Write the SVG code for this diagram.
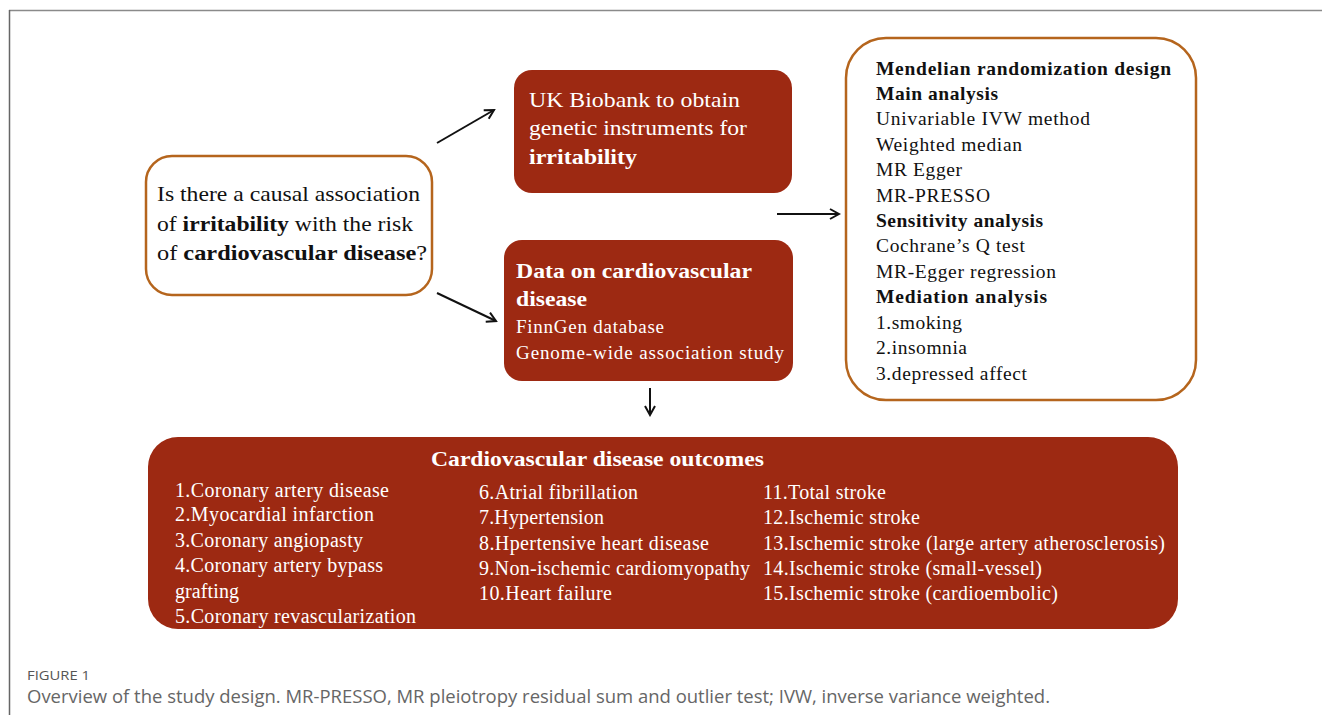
<svg xmlns="http://www.w3.org/2000/svg" width="1322" height="715" viewBox="0 0 1322 715">
<defs>
<style>
.t{font-family:"Liberation Serif","Times New Roman",serif;}
.w{fill:#ffffff;}
.k{fill:#111111;}
.b{font-weight:bold;}
.red{fill:#9d2912;}
.wb{fill:#ffffff;stroke:#b5651d;stroke-width:2.5;}
.conn{stroke:#111;stroke-width:2;fill:none;}
.cap{font-family:"Open Sans","Liberation Sans",sans-serif;}
</style>
<marker id="ah" markerWidth="12" markerHeight="12" refX="10" refY="6" orient="auto" markerUnits="userSpaceOnUse">
<path d="M1,1 L10,6 L1,11" fill="none" stroke="#111" stroke-width="2"/>
</marker>
</defs>
<rect width="1322" height="715" fill="#ffffff"/>
<line x1="9" y1="10.5" x2="1322" y2="10.5" stroke="#8a8a8a" stroke-width="1.5"/>
<line x1="9.5" y1="10" x2="9.5" y2="715" stroke="#666" stroke-width="1.5"/>

<g id="question">
<rect class="wb" x="146" y="156" width="286" height="139" rx="26"/>
<text class="t k" font-size="22" x="157" y="201" textLength="263" lengthAdjust="spacingAndGlyphs">Is there a causal association</text>
<text class="t k" font-size="22" x="157" y="231" textLength="256" lengthAdjust="spacingAndGlyphs">of <tspan class="b">irritability</tspan> with the risk</text>
<text class="t k" font-size="22" x="157" y="260" textLength="270" lengthAdjust="spacingAndGlyphs">of  <tspan class="b">cardiovascular disease</tspan>?</text>
</g>

<g id="ukbiobank">
<rect class="red" x="514" y="70" width="278" height="123" rx="18"/>
<text class="t w" font-size="22" x="529" y="107" textLength="211" lengthAdjust="spacingAndGlyphs">UK Biobank to obtain</text>
<text class="t w" font-size="22" x="529" y="135" textLength="218" lengthAdjust="spacingAndGlyphs">genetic instruments for</text>
<text class="t w b" font-size="22" x="529" y="164" textLength="108" lengthAdjust="spacingAndGlyphs">irritability</text>
</g>

<g id="data">
<rect class="red" x="504" y="240" width="289" height="141" rx="18"/>
<text class="t w b" font-size="22" x="516" y="278" textLength="236" lengthAdjust="spacingAndGlyphs">Data on cardiovascular</text>
<text class="t w b" font-size="22" x="516" y="306" textLength="71" lengthAdjust="spacingAndGlyphs">disease</text>
<text class="t w" font-size="19" x="516" y="333" textLength="148" lengthAdjust="spacing">FinnGen database</text>
<text class="t w" font-size="19" x="516" y="359" textLength="268" lengthAdjust="spacing">Genome-wide association study</text>
</g>

<g id="mrdesign">
<rect class="wb" x="846" y="38" width="350" height="362" rx="40"/>
<g class="t k" font-size="19.5" lengthAdjust="spacing">
<text class="b" x="876" y="75" textLength="295">Mendelian randomization design</text>
<text class="b" x="876" y="100" textLength="122">Main analysis</text>
<text x="876" y="125" textLength="214">Univariable IVW method</text>
<text x="876" y="151" textLength="146">Weighted median</text>
<text x="876" y="176" textLength="86">MR Egger</text>
<text x="876" y="202" textLength="114">MR-PRESSO</text>
<text class="b" x="876" y="227" textLength="167">Sensitivity analysis</text>
<text x="876" y="252" textLength="149">Cochrane’s Q test</text>
<text x="876" y="278" textLength="180">MR-Egger regression</text>
<text class="b" x="876" y="303" textLength="171">Mediation  analysis</text>
<text x="876" y="329" textLength="86">1.smoking</text>
<text x="876" y="354" textLength="91">2.insomnia</text>
<text x="876" y="380" textLength="151">3.depressed affect</text>
</g>
</g>

<g id="outcomes">
<rect class="red" x="148" y="437" width="1030" height="192" rx="30"/>
<text class="t w b" font-size="22" x="431" y="466" textLength="333" lengthAdjust="spacingAndGlyphs">Cardiovascular disease outcomes</text>
<g class="t w" font-size="20">
<text x="175" y="497" textLength="214">1.Coronary artery disease</text>
<text x="175" y="521" textLength="199">2.Myocardial  infarction</text>
<text x="175" y="547" textLength="188">3.Coronary angiopasty</text>
<text x="175" y="572" textLength="208">4.Coronary artery bypass</text>
<text x="175" y="598" textLength="64">grafting</text>
<text x="175" y="623" textLength="241">5.Coronary revascularization</text>
<text x="479" y="499" textLength="159">6.Atrial fibrillation</text>
<text x="479" y="524" textLength="125">7.Hypertension</text>
<text x="479" y="550" textLength="230">8.Hpertensive heart disease</text>
<text x="479" y="575" textLength="271">9.Non-ischemic cardiomyopathy</text>
<text x="479" y="600" textLength="133">10.Heart failure</text>
<text x="763" y="499" textLength="123">11.Total stroke</text>
<text x="763" y="524" textLength="157">12.Ischemic stroke</text>
<text x="763" y="550" textLength="402">13.Ischemic stroke (large artery atherosclerosis)</text>
<text x="763" y="575" textLength="279">14.Ischemic stroke (small-vessel)</text>
<text x="763" y="600" textLength="295">15.Ischemic stroke (cardioembolic)</text>
</g>
</g>

<g id="connectors">
<line class="conn" x1="437" y1="143" x2="494" y2="110" marker-end="url(#ah)"/>
<line class="conn" x1="437" y1="293" x2="496" y2="321" marker-end="url(#ah)"/>
<line class="conn" x1="777" y1="214" x2="839" y2="214" marker-end="url(#ah)"/>
<line class="conn" x1="650" y1="388" x2="650" y2="415" marker-end="url(#ah)"/>
</g>

<g id="caption">
<text class="cap" font-size="13" fill="#555" x="27" y="680" textLength="63" lengthAdjust="spacingAndGlyphs">FIGURE 1</text>
<text class="cap" font-size="18" fill="#666" x="27" y="703" textLength="1023" lengthAdjust="spacingAndGlyphs">Overview of the study design. MR-PRESSO, MR pleiotropy residual sum and outlier test; IVW, inverse variance weighted.</text>
</g>
</svg>
